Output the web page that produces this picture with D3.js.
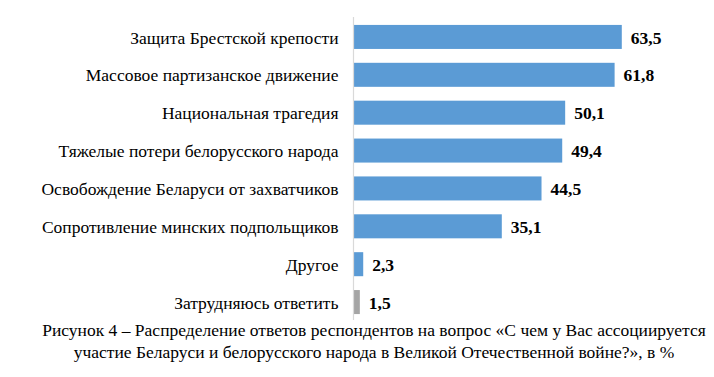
<!DOCTYPE html>
<html>
<head>
<meta charset="utf-8">
<script src="https://cdn.jsdelivr.net/npm/d3@7"></script>
<style>
  body { margin: 0; background: #fff; }
  svg { display: block; }
</style>
</head>
<body>
<div id="chart"></div>
<script>
const categories = [
    "Защита Брестской крепости",
    "Массовое партизанское движение",
    "Национальная трагедия",
    "Тяжелые потери белорусского народа",
    "Освобождение Беларуси от захватчиков",
    "Сопротивление минских подпольщиков",
    "Другое",
    "Затрудняюсь ответить"
];
const values = [63.5, 61.8, 50.1, 49.4, 44.5, 35.1, 2.3, 1.5];
const captionLines = [
    "Рисунок 4 – Распределение ответов респондентов на вопрос «С чем у Вас ассоциируется",
    "участие Беларуси и белорусского народа в Великой Отечественной войне?», в %"
];

const width = 714, height = 377;
const font = "Liberation Serif";

const svg = d3.select("#chart").append("svg")
    .attr("width", width)
    .attr("height", height);

const x = d3.scaleLinear().domain([0, 70]).range([353.5, 353.5 + 70 * 4.225]);
const y = d3.scaleBand().domain(categories).range([18, 321]).paddingInner(0.366).paddingOuter(0.183);

const data = categories.map((c, i) => ({ cat: c, value: values[i] }));

// bars
svg.append("g")
    .selectAll("rect")
    .data(data)
    .join("rect")
    .attr("x", x(0))
    .attr("y", d => y(d.cat))
    .attr("width", d => x(d.value) - x(0))
    .attr("height", y.bandwidth())
    .attr("fill", d => d.cat === "Затрудняюсь ответить" ? "#a5a5a5" : "#5b9bd5");

// category axis
const axis = svg.append("g")
    .attr("transform", `translate(${x(0)},0)`)
    .call(d3.axisLeft(y).tickSize(0).tickPadding(15));
axis.select(".domain").attr("stroke", "#d9d9d9").attr("stroke-width", 1.2)
    .attr("d", `M0,17V320`);
axis.selectAll("text")
    .style("font-family", font)
    .style("font-size", "17.5px")
    .attr("fill", "#000")
    .attr("dy", "0.38em");

// value labels
svg.append("g")
    .selectAll("text")
    .data(data)
    .join("text")
    .attr("x", d => x(d.value) + 9)
    .attr("y", d => y(d.cat) + y.bandwidth() / 2)
    .attr("dy", "0.38em")
    .style("font-family", font)
    .style("font-size", "17.5px")
    .style("font-weight", "bold")
    .text(d => d3.format(".1f")(d.value).replace(".", ","));

// caption
svg.append("g")
    .selectAll("text")
    .data(captionLines)
    .join("text")
    .attr("x", 374)
    .attr("y", (d, i) => 336 + i * 22)
    .attr("text-anchor", "middle")
    .style("font-family", font)
    .style("font-size", "17.5px")
    .text(d => d);
</script>
</body>
</html>
